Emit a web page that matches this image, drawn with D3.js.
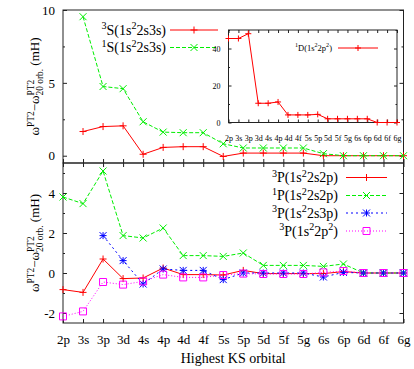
<!DOCTYPE html>
<html>
<head>
<meta charset="utf-8">
<script src="https://cdn.jsdelivr.net/npm/d3@7"></script>
<style>
  body { margin: 0; background: #fff; }
  svg text { font-family: "Liberation Serif", "Times New Roman", serif; }
</style>
</head>
<body>
<div id="chart"></div>
<script>
// orbitals on the x axis
const categories = ['2p', '3s', '3p', '3d', '4s', '4p', '4d', '4f', '5s', '5p',
    '5d', '5f', '5g', '6s', '6p', '6d', '6f', '6g'];

// top panel (mH)
const s3S = [null, 1.66, 2.0, 2.05, 0.1, 0.57, 0.62, 0.62, -0.05, 0.18, 0.18, 0.18, 0.18, 0.0, 0, 0, 0, 0];
const s1S = [null, 9.54, 4.75, 4.6, 2.33, 1.62, 1.58, 1.58, 0.82, 0.53, 0.53, 0.53, 0.53, 0.14, 0, 0, 0, 0];

// inset
const d1D = [45.4, 45.4, 48, 10.4, 10.4, 11.1, 4.1, 4.1, 4.1, 4.4, 2.0, 2.0, 2.0, 2.0, 2.0, 0, 0, 0];

// bottom panel (mH)
const p3P = [-0.83, -0.97, 0.7, -0.28, -0.25, 0.25, -0.08, -0.08, -0.1, 0.13, -0.03, -0.03, -0.03, -0.03, 0.07, 0, 0, 0];
const p1P = [3.8, 3.47, 5.1, 1.87, 1.75, 2.25, 0.87, 0.87, 0.83, 1.0, 0.38, 0.38, 0.38, 0.33, 0.45, 0, 0, 0];
const p3P3p = [null, null, 1.87, 0.62, -0.55, 0.2, 0.13, 0.13, -0.33, 0, 0, 0, 0, -0.2, 0.03, 0, 0, 0];
const p3P2p2 = [-2.17, -1.92, -0.45, -0.58, -0.42, -0.08, -0.22, -0.22, -0.1, -0.03, -0.05, -0.05, -0.05, 0.03, 0.1, 0, 0, 0];

const topTicks = [0, 5, 10];
const topMinor = [2.5, 7.5];
const insetTicks = [0, 20, 40];
const insetMinor = [10, 30, 50];
const botTicks = [-2, 0, 2, 4];
const botMinor = [-1, 1, 3, 5];

const topSeries = [
    { name: '^3S(1s^22s3s)', values: s3S, color: '#ff0000', dash: null, mark: 'plus' },
    { name: '^1S(1s^22s3s)', values: s1S, color: '#00ee00', dash: '4,2', mark: 'cross' }
];
const botSeries = [
    { name: '^3P(1s^22s2p)', values: p3P, color: '#ff0000', dash: null, mark: 'plus' },
    { name: '^1P(1s^22s2p)', values: p1P, color: '#00ee00', dash: '4,2', mark: 'cross' },
    { name: '^3P(1s^22s3p)', values: p3P3p, color: '#0000ff', dash: '2,3', mark: 'star' },
    { name: '^3P(1s^22p^2)', values: p3P2p2, color: '#ff00ff', dash: '1,2', mark: 'square' }
];
const yLabel = 'ω^{PT2}−ω@^{PT2}_{20 orb.} (mH)';

const FONT = '"Liberation Serif", "Times New Roman", serif';
const W = 414, H = 369;
const left = 63, right = 403.5;

const svg = d3.select('#chart').append('svg')
    .attr('width', W).attr('height', H)
    .style('font-family', FONT);

const x = d3.scalePoint().domain(categories).range([left, right]);
const yTop = d3.scaleLinear().domain([-0.5, 10]).range([163, 10]);
const yBot = d3.scaleLinear().domain([-2.5, 5.5]).range([323, 163]);
const xIn = d3.scalePoint().domain(categories).range([228.5, 397]);
const yIn = d3.scaleLinear().domain([0, 50]).range([122.5, 30]);

// gnuplot-like enhanced text: ^x, _x, ^{..}, @ stacks next sup/sub
function rich(sel, str, size) {
    const tokens = [];
    let buf = '', stack = false, i = 0;
    while (i < str.length) {
        const c = str[i];
        if (c === '@') { if (buf) tokens.push({ t: buf, k: 'n' }); buf = ''; stack = true; i++; continue; }
        if (c === '^' || c === '_') {
            if (buf) tokens.push({ t: buf, k: 'n' });
            buf = '';
            let g;
            if (str[i + 1] === '{') { const j = str.indexOf('}', i); g = str.slice(i + 2, j); i = j + 1; }
            else { g = str[i + 1]; i += 2; }
            tokens.push({ t: g, k: c === '^' ? 'sup' : 'sub', st: stack });
            if (c === '_') stack = false;
            continue;
        }
        buf += c; i++;
    }
    if (buf) tokens.push({ t: buf, k: 'n' });

    let off = 0, supLen = 0, pending = 0;
    tokens.forEach(tok => {
        const target = tok.k === 'sup' ? -0.4 * size : tok.k === 'sub' ? 0.3 * size : 0;
        const ts = sel.append('tspan').text(tok.t)
            .attr('font-size', tok.k === 'n' ? size : size * 0.72)
            .attr('dy', target - off);
        off = target;
        if (tok.k === 'sup' && tok.st) {
            supLen = ts.node().getComputedTextLength();
        } else if (tok.k === 'sub' && tok.st) {
            ts.attr('dx', -supLen);
            pending = Math.max(0, supLen - ts.node().getComputedTextLength());
        } else if (pending) {
            ts.attr('dx', pending);
            pending = 0;
        }
    });
}

function markPath(type, s) {
    if (type === 'plus') return `M${-s},0H${s}M0,${-s}V${s}`;
    if (type === 'cross') return `M${-s},${-s}L${s},${s}M${-s},${s}L${s},${-s}`;
    if (type === 'star') return `M${-s},0H${s}M0,${-s}V${s}M${-s},${-s}L${s},${s}M${-s},${s}L${s},${-s}`;
    return `M${-s},${-s}H${s}V${s}H${-s}Z`;
}

function drawSeries(g, series, xs, ys, ms) {
    const pts = series.values.map((v, i) => ({ c: categories[i], v }));
    const line = d3.line()
        .defined(d => d.v != null)
        .x(d => xs(d.c))
        .y(d => ys(d.v));
    g.append('path')
        .attr('d', line(pts))
        .attr('fill', 'none')
        .attr('stroke', series.color)
        .attr('stroke-width', 1)
        .attr('stroke-dasharray', series.dash);
    g.selectAll(null)
        .data(pts.filter(d => d.v != null))
        .join('path')
        .attr('transform', d => `translate(${xs(d.c)},${ys(d.v)})`)
        .attr('d', markPath(series.mark, ms))
        .attr('fill', 'none')
        .attr('stroke', series.color)
        .attr('stroke-width', 1);
}

function legendRow(g, series, tx, y, x1, x2, size, ms) {
    const t = g.append('text')
        .attr('x', tx).attr('y', y + size * 0.33)
        .attr('text-anchor', 'end')
        .attr('font-size', size)
        .style('font-family', FONT);
    rich(t, series.name, size);
    g.append('line')
        .attr('x1', x1).attr('x2', x2).attr('y1', y).attr('y2', y)
        .attr('stroke', series.color).attr('stroke-width', 1)
        .attr('stroke-dasharray', series.dash);
    g.append('path')
        .attr('transform', `translate(${(x1 + x2) / 2},${y})`)
        .attr('d', markPath(series.mark, ms))
        .attr('fill', 'none').attr('stroke', series.color);
}

function frameAxes(g, xs, ys, major, minor, x0, x1, opt) {
    const lab = g.append('g').attr('transform', `translate(${x0},0)`)
        .call(d3.axisLeft(ys).tickValues(major).tickSize(-opt.tick)
            .tickPadding(opt.pad).tickFormat(d => String(d)));
    lab.attr('font-family', null).attr('font-size', null);
    lab.selectAll('text').attr('font-size', opt.fs).style('font-family', FONT).attr('fill', '#000');
    g.append('g').attr('transform', `translate(${x0},0)`)
        .call(d3.axisLeft(ys).tickValues(minor).tickSize(-opt.tick / 2).tickFormat(''));
    g.append('g').attr('transform', `translate(${x1},0)`)
        .call(d3.axisRight(ys).tickValues(major).tickSize(-opt.tick).tickFormat(''));
    g.append('g').attr('transform', `translate(${x1},0)`)
        .call(d3.axisRight(ys).tickValues(minor).tickSize(-opt.tick / 2).tickFormat(''));
    const [yb, yt] = ys.range();
    const xb = g.append('g').attr('transform', `translate(0,${yb})`)
        .call(d3.axisBottom(xs).tickSize(-opt.tick).tickPadding(opt.xpad)
            .tickFormat(opt.xlabels ? d => d : ''));
    xb.attr('font-family', null).attr('font-size', null);
    xb.selectAll('text').attr('font-size', opt.xfs).style('font-family', FONT).attr('fill', '#000');
    if (opt.topTicks) {
        g.append('g').attr('transform', `translate(0,${yt})`)
            .call(d3.axisTop(xs).tickSize(-opt.tick).tickFormat(''));
    }
    g.selectAll('.domain').remove();
    g.selectAll('.tick line').attr('stroke', '#222');
    g.append('rect')
        .attr('x', x0).attr('y', yt).attr('width', x1 - x0).attr('height', yb - yt)
        .attr('fill', 'none').attr('stroke', '#222').attr('stroke-width', 1);
}

// top panel
const gTop = svg.append('g');
frameAxes(gTop, x, yTop, topTicks, topMinor, left, right,
    { fs: 13, tick: 4, pad: 8, xpad: 4, xfs: 13, xlabels: false, topTicks: false });
topSeries.forEach(s => drawSeries(gTop, s, x, yTop, 3.5));
legendRow(gTop, topSeries[0], 166, 30, 170, 218, 14, 3.5);
legendRow(gTop, topSeries[1], 166, 47.5, 170, 218, 14, 3.5);

// inset
const gIn = svg.append('g');
gIn.append('rect').attr('x', 228.5).attr('y', 30).attr('width', 397 - 228.5).attr('height', 92.5)
    .attr('fill', '#fff');
frameAxes(gIn, xIn, yIn, insetTicks, insetMinor, 228.5, 397,
    { fs: 8, tick: 3, pad: 8, xpad: 13, xfs: 8, xlabels: true, topTicks: true });
drawSeries(gIn, { values: d1D, color: '#ff0000', dash: null, mark: 'plus' }, xIn, yIn, 3);
legendRow(gIn, { name: '^1D(1s^22p^2)', color: '#ff0000', dash: null, mark: 'plus' },
    332, 48, 338, 378, 8.5, 3);

// bottom panel
const gBot = svg.append('g');
frameAxes(gBot, x, yBot, botTicks, botMinor, left, right,
    { fs: 13, tick: 4, pad: 8, xpad: 12, xfs: 13, xlabels: true, topTicks: true });
botSeries.forEach(s => drawSeries(gBot, s, x, yBot, 3.5));
[177.5, 195.5, 213, 231].forEach((y, i) => legendRow(gBot, botSeries[i], 338, y, 346, 387, 14, 3.5));

// axis titles
[86.5, 243].forEach(cy => {
    const t = svg.append('text')
        .attr('transform', `translate(39,${cy}) rotate(-90)`)
        .attr('text-anchor', 'middle')
        .attr('font-size', 13)
        .style('font-family', FONT);
    rich(t, yLabel, 13);
});
svg.append('text')
    .attr('x', (left + right) / 2).attr('y', 363)
    .attr('text-anchor', 'middle')
    .attr('font-size', 14)
    .style('font-family', FONT)
    .text('Highest KS orbital');
</script>
</body>
</html>
